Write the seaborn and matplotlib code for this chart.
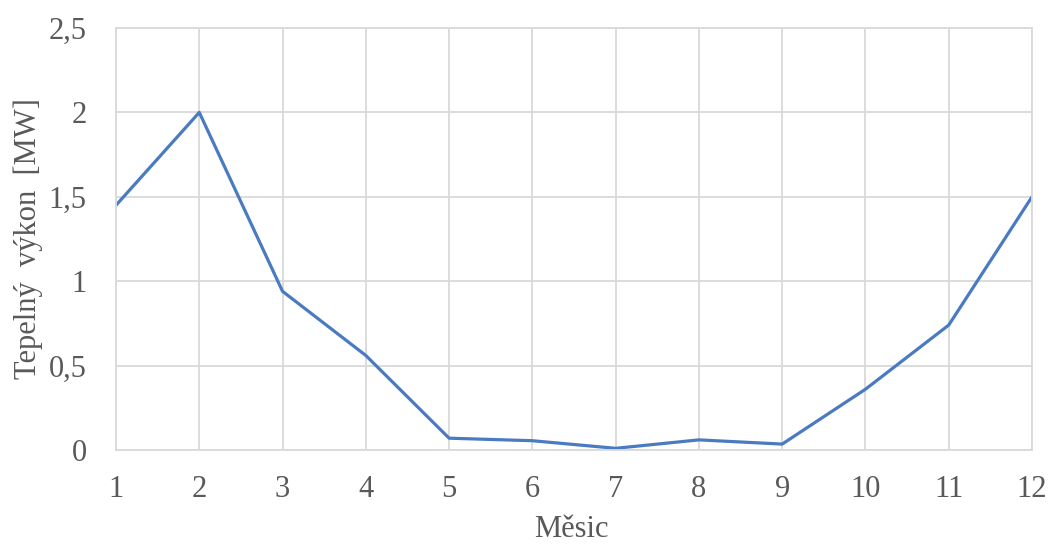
import matplotlib
matplotlib.use("Agg")
import matplotlib.pyplot as plt
import seaborn as sns
import pandas as pd

months = [1, 2, 3, 4, 5, 6, 7, 8, 9, 10, 11, 12]
power_mw = [1.45, 2.0, 0.94, 0.56, 0.07, 0.055, 0.01, 0.06, 0.035, 0.36, 0.74, 1.5]
y_ticks = [0, 0.5, 1, 1.5, 2, 2.5]
y_tick_labels = ["0", "0,5", "1", "1,5", "2", "2,5"]

sns.set_theme(style="white")
plt.rcParams['font.family'] = ['Liberation Serif', 'DejaVu Serif']

df = pd.DataFrame({"Měsic": months, "Tepelný výkon [MW]": power_mw})

fig = plt.figure(figsize=(10.49, 5.46), dpi=100)
ax = fig.add_axes([116 / 1049, 1 - 450 / 546, 916 / 1049, 422 / 546])
sns.lineplot(data=df, x="Měsic", y="Tepelný výkon [MW]", ax=ax, color="#4A7BC0", linewidth=2.3)

ax.set_xlim(1, 12)
ax.set_ylim(0, 2.5)
ax.set_xticks(months)
ax.set_xticklabels([str(m) for m in months])
ax.set_yticks(y_ticks)
ax.set_yticklabels(y_tick_labels)
ax.grid(True, color="#D9D9D9", linewidth=1.3)
ax.set_axisbelow(True)
for s in ax.spines.values():
    s.set_color("#D9D9D9")
    s.set_linewidth(1.3)
ax.tick_params(axis="both", length=0, labelsize=22, colors="#595959")
ax.tick_params(axis="x", pad=18)
ax.tick_params(axis="y", pad=21)
ax.set_xlabel("Měsic", fontsize=22, color="#595959")
ax.set_ylabel("Tepelný  výkon  [MW]", fontsize=22, color="#595959")
ax.xaxis.set_label_coords(0.497, -0.155)
ax.yaxis.set_label_coords(-0.08, 0.5)

fig.savefig("out.png", dpi=100)
